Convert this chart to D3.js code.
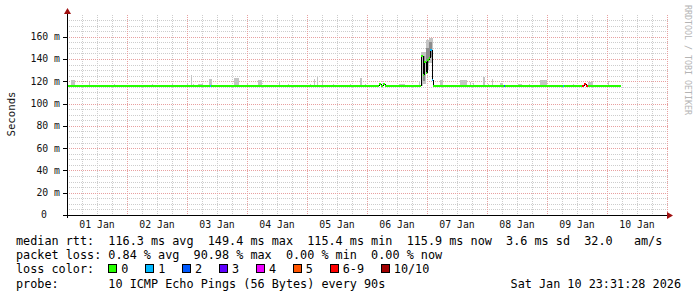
<!DOCTYPE html>
<html>
<head>
<meta charset="utf-8">
<script src="https://cdn.jsdelivr.net/npm/d3@7"></script>
<style>
  body { margin: 0; background: #fff; }
  svg { display: block; }
  text { font-family: "DejaVu Sans Mono", monospace; white-space: pre; }
</style>
</head>
<body>
<div id="chart"></div>
<script>
// ---- data (hours since 01 Jan 2026 00:00 UTC, values in ms) ----
const yTicks = [0, 20, 40, 60, 80, 100, 120, 140, 160];
const dayLabels = ["01 Jan", "02 Jan", "03 Jan", "04 Jan", "05 Jan", "06 Jan", "07 Jan", "08 Jan", "09 Jan", "10 Jan"];

// smoke (ping spread) bars
const smokeStart = [1.5, 8.7, 18.7, 34, 41.9, 47.8, 49.5, 50.3, 52.3, 56.7, 66.7, 71.8, 76.3, 84.7, 88.3, 97.1, 98.7, 99.9, 101.8, 106.3, 113.1, 117, 119.1, 132.7, 140.7, 141.6, 142.2, 143.4, 144.6, 149, 157.1, 161, 162.3, 166.2, 168.3, 169.8, 173.1, 180.3, 184.7, 189.1, 202.3, 208.3, 216.3];
const smokeSpan = [1.6, 0.4, 0.4, 0.4, 0.6, 0.6, 0.4, 0.4, 2, 1.2, 2, 0.6, 1.6, 0.6, 0.6, 0.6, 0.4, 0.4, 0.6, 0.6, 0.6, 0.8, 0.4, 2.4, 0.4, 0.6, 1.2, 1.2, 1.6, 1.2, 2.8, 0.4, 0.4, 0.8, 0.4, 0.4, 1.2, 1.6, 0.4, 2.8, 0.4, 2, 0.4];
const smokeLow = [116, 116, 116, 116, 116, 116, 116, 116, 116, 116, 116, 116, 116, 116, 116, 116, 116, 116, 116, 116, 116, 116, 116, 116, 116, 116, 118, 130, 136, 116, 116, 116, 116, 116, 116, 116, 116, 116, 116, 116, 116, 116, 116];
const smokeHigh = [121, 119.6, 117.5, 117.5, 118, 118.8, 125.6, 117.5, 117.8, 122, 123, 117.5, 121, 120, 117.5, 117.5, 122, 124, 121, 117.5, 117.5, 123.3, 117.5, 117.8, 120, 146, 146, 157, 159, 121, 121, 119, 118.5, 123.6, 118, 122, 118.8, 118, 117.5, 121, 117.5, 119, 120];

// denser core of the smoke during the spike
const coreStart = [142.2, 143.4, 144.6];
const coreSpan = [1.0, 1.2, 1.4];
const coreLow = [120, 136, 142];
const coreHigh = [143, 150, 155];

// median rtt samples and lost pings (of 10)
const medianHours = [0, 57.1, 57.7, 124.8, 125.6, 126.4, 127.2, 141.6, 142.2, 142.8, 143.4, 144.0, 144.6, 145.2, 145.8, 146.3, 174.7, 175.3, 198.3, 198.7, 206.0, 206.6, 207.6, 208.2, 221.5];
const medianMs = [116, 116, 116, 117.5, 116, 117.5, 116, 143, 126, 137.6, 127, 139, 141, 148, 121, 116, 116, 116, 116, 116, 116, 117.5, 116, 116, 116];
const medianLoss = [0, 1, 0, 0, 0, 0, 0, 0, 0, 0, 0, 0, 0, 1, 1, 0, 2, 0, 1, 0, 6, 6, 6, 0, 0];

const lossLabels = ["0", "1", "2", "3", "4", "5", "6-9", "10/10"];
const lossColors = ["#26ff00", "#00b8ff", "#0059ff", "#5e00ff", "#ee00ff", "#ff5500", "#ff0000", "#a10000"];

const rttLine = "median rtt:  116.3 ms avg  149.4 ms max  115.4 ms min  115.9 ms now  3.6 ms sd  32.0   am/s";
const lossLine = "packet loss: 0.84 % avg  90.98 % max  0.00 % min  0.00 % now";
const probeLine = "probe:       10 ICMP Echo Pings (56 Bytes) every 90s";
const stampLine = "Sat Jan 10 23:31:28 2026";

// ---- layout ----
const W = 697, H = 297;
const plotLeft = 67, plotRight = 669, plotTop = 15, plotBottom = 215;
const charW = 7.1;

const svg = d3.select("#chart").append("svg")
  .attr("width", W)
  .attr("height", H);

const t0 = Date.UTC(2026, 0, 1);
const HOUR = 3600e3;
const hDate = h => new Date(t0 + h * HOUR);

const x = d3.scaleUtc()
  .domain([hDate(0), hDate(240.8)])
  .range([plotLeft, plotRight]);

const y = d3.scaleLinear()
  .domain([0, 179.5])
  .range([plotBottom, plotTop]);

const px = v => Math.round(v) + 0.5;

// grid
const grid = svg.append("g").attr("shape-rendering", "crispEdges");

const sixHours = d3.utcHour.every(6).range(hDate(0), hDate(240.8)).filter(d => d.getUTCHours() !== 0);
const midnights = d3.utcDay.range(hDate(0), hDate(240.8));

grid.selectAll(".vminor").data(sixHours).enter().append("line")
  .attr("x1", d => px(x(d))).attr("x2", d => px(x(d)))
  .attr("y1", plotTop).attr("y2", plotBottom)
  .attr("stroke", "#cdcdcd").attr("stroke-dasharray", "1,1");

const yMinor = d3.range(5, 180, 5).filter(v => v % 20 !== 0);
grid.selectAll(".hminor").data(yMinor).enter().append("line")
  .attr("x1", plotLeft).attr("x2", plotRight)
  .attr("y1", d => px(y(d))).attr("y2", d => px(y(d)))
  .attr("stroke", "#cdcdcd").attr("stroke-dasharray", "1,1");

grid.selectAll(".vmajor").data(midnights).enter().append("line")
  .attr("x1", d => px(x(d))).attr("x2", d => px(x(d)))
  .attr("y1", plotTop).attr("y2", plotBottom)
  .attr("stroke", "#e8a0a0").attr("stroke-dasharray", "1,1");

grid.selectAll(".hmajor").data(yTicks.filter(v => v > 0)).enter().append("line")
  .attr("x1", plotLeft).attr("x2", plotRight)
  .attr("y1", d => px(y(d))).attr("y2", d => px(y(d)))
  .attr("stroke", "#e8a0a0").attr("stroke-dasharray", "1,1");

// smoke
function drawBars(starts, spans, lows, highs, color) {
  svg.append("g").attr("shape-rendering", "crispEdges")
    .selectAll("rect")
    .data(starts.map((s, i) => ({ s, w: spans[i], lo: lows[i], hi: highs[i] })))
    .enter().append("rect")
    .attr("x", d => x(hDate(d.s)))
    .attr("width", d => Math.max(1, x(hDate(d.s + d.w)) - x(hDate(d.s))))
    .attr("y", d => y(d.hi))
    .attr("height", d => y(d.lo) - y(d.hi))
    .attr("fill", color);
}
drawBars(smokeStart, smokeSpan, smokeLow, smokeHigh, "#c4c4c4");
drawBars(coreStart, coreSpan, coreLow, coreHigh, "#8c8c8c");

// median line, coloured by loss
const lossIndex = l => (l >= 10 ? 7 : l >= 6 ? 6 : l);
const segs = medianHours.slice(0, -1).map((h, i) => ({
  h0: h, h1: medianHours[i + 1], v: medianMs[i], next: medianMs[i + 1], loss: medianLoss[i]
}));

const med = svg.append("g").attr("shape-rendering", "crispEdges");
med.selectAll(".jump").data(segs.filter(d => Math.abs(y(d.v) - y(d.next)) > 0.5)).enter().append("line")
  .attr("x1", d => px(x(hDate(d.h1)))).attr("x2", d => px(x(hDate(d.h1))))
  .attr("y1", d => y(d.v)).attr("y2", d => y(d.next))
  .attr("stroke", "#000").attr("stroke-width", 1);

med.selectAll(".seg").data(segs).enter().append("line")
  .attr("x1", d => x(hDate(d.h0))).attr("x2", d => x(hDate(d.h1)))
  .attr("y1", d => Math.round(y(d.v))).attr("y2", d => Math.round(y(d.v)))
  .attr("stroke", d => lossColors[lossIndex(d.loss)])
  .attr("stroke-width", 2);

// axes
const axis = svg.append("g").attr("shape-rendering", "crispEdges");
axis.append("line").attr("x1", 63).attr("x2", plotRight + 1).attr("y1", px(y(0))).attr("y2", px(y(0))).attr("stroke", "#000");
axis.append("line").attr("x1", px(plotLeft)).attr("x2", px(plotLeft)).attr("y1", plotBottom + 3).attr("y2", plotTop - 3).attr("stroke", "#000");
axis.selectAll(".ytick").data(yTicks).enter().append("line")
  .attr("x1", 63).attr("x2", plotLeft)
  .attr("y1", d => px(y(d))).attr("y2", d => px(y(d)))
  .attr("stroke", "#000");

svg.append("path")
  .attr("d", `M${plotLeft + 0.5},8 L${plotLeft + 4},14 L${plotLeft - 3},14 Z`)
  .attr("fill", "#a01010");
svg.append("path")
  .attr("d", `M${plotRight + 4},${plotBottom + 0.5} L${plotRight - 2},${plotBottom - 3} L${plotRight - 2},${plotBottom + 4} Z`)
  .attr("fill", "#a01010");

svg.selectAll(".ylab").data(yTicks).enter().append("text")
  .attr("x", d => (d === 0 ? 47 : 60))
  .attr("y", d => y(d))
  .attr("dy", "0.35em")
  .attr("text-anchor", "end")
  .attr("font-size", "9.8px")
  .attr("fill", "#111")
  .text(d => (d === 0 ? "0" : d + " m"));

svg.selectAll(".xlab").data(dayLabels).enter().append("text")
  .attr("x", (d, i) => x(hDate(i * 24 + 12)))
  .attr("y", 228)
  .attr("text-anchor", "middle")
  .attr("font-size", "9.8px")
  .attr("fill", "#111")
  .text(d => d);

svg.append("text")
  .attr("transform", "translate(15,114) rotate(-90)")
  .attr("text-anchor", "middle")
  .attr("font-size", "10.7px")
  .attr("fill", "#111")
  .text("Seconds");

svg.append("text")
  .attr("transform", "translate(684.5,5) rotate(90)")
  .attr("font-size", "8.3px")
  .attr("fill", "#b4b4b4")
  .text("RRDTOOL / TOBI OETIKER");

// legend
const legend = svg.append("g").attr("font-size", "11.8px").attr("fill", "#000");
legend.append("text").attr("x", 16).attr("y", 244.5).text(rttLine);
legend.append("text").attr("x", 16).attr("y", 259).text(lossLine);
legend.append("text").attr("x", 16).attr("y", 273.3).text("loss color:");
legend.append("text").attr("x", 16).attr("y", 287.5).text(probeLine);
legend.append("text").attr("x", 681).attr("y", 287.5).attr("text-anchor", "end").text(stampLine);

let cursor = 16 + 13 * charW;
lossLabels.forEach((lab, i) => {
  legend.append("rect")
    .attr("x", Math.round(cursor) + 0.5).attr("y", 264.5)
    .attr("width", 8).attr("height", 8)
    .attr("fill", lossColors[i]).attr("stroke", "#000")
    .attr("shape-rendering", "crispEdges");
  legend.append("text").attr("x", cursor + 13).attr("y", 273.3).text(lab);
  cursor = cursor + 13 + lab.length * charW + 16.8;
});
</script>
</body>
</html>
